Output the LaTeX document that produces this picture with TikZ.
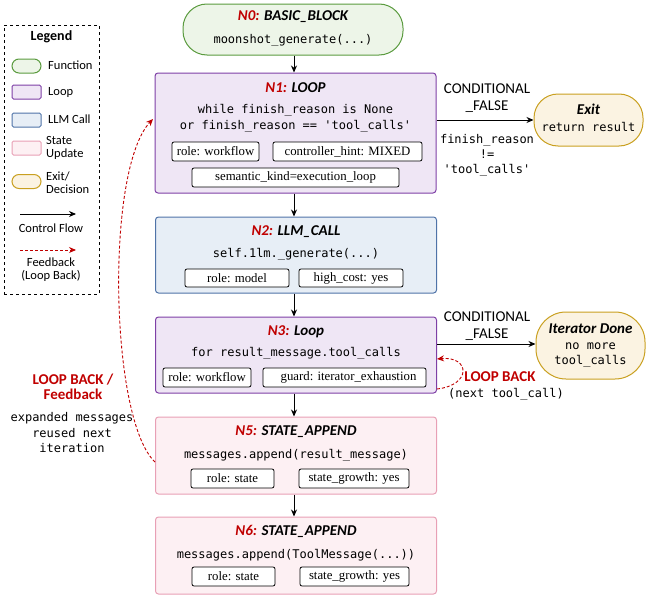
\documentclass[tikz,border=0pt]{standalone}
\usepackage{fontspec}
\setmainfont{Liberation Serif}
\setsansfont{Carlito}
\setmonofont{DejaVu Sans Mono}
\usetikzlibrary{arrows.meta}
\definecolor{gfill}{HTML}{EDF5E8}\definecolor{gline}{HTML}{5B9B3F}
\definecolor{pfill}{HTML}{EFE6F5}\definecolor{pline}{HTML}{7E3FA6}
\definecolor{bfill}{HTML}{E7EEF6}\definecolor{bline}{HTML}{4F73A8}
\definecolor{kfill}{HTML}{FDF0F3}\definecolor{kline}{HTML}{E8A0B5}
\definecolor{yfill}{HTML}{FBF3E2}\definecolor{yline}{HTML}{C9A020}
\definecolor{dred}{HTML}{C00000}
\begin{document}
\begin{tikzpicture}[x=1pt,y=-1pt,
  blk/.style={draw, line width=1pt, minimum width=281pt, rounded corners=3pt, inner sep=0pt},
  pill/.style={draw, line width=1pt, rounded corners=24pt, inner sep=0pt},
  ttl/.style={font=\sffamily\bfseries\itshape\fontsize{15}{17}\selectfont, inner sep=0pt},
  code/.style={font=\ttfamily\fontsize{12}{16}\selectfont, align=center, inner sep=0pt},
  tag/.style={draw, fill=white, rounded corners=2pt, line width=0.8pt, font=\fontsize{12.8}{14}\selectfont, minimum height=19pt, inner sep=0pt},
  lbl/.style={font=\sffamily\fontsize{15}{17}\selectfont, align=center, inner sep=0pt},
  leg/.style={font=\sffamily\fontsize{12.5}{13}\selectfont, align=left, anchor=west, inner sep=0pt},
  legicon/.style={draw, line width=1pt, minimum width=29pt, minimum height=14pt, inner sep=0pt},
  flow/.style={-{Stealth[length=7pt,width=6pt]}, line width=0.9pt},
  fb/.style={-{Stealth[length=7pt,width=6pt]}, line width=0.9pt, dred, dash pattern=on 3pt off 2pt}
]
\useasboundingbox (0,0) rectangle (648,597);

% Legend
\node[draw, dashed, line width=0.8pt, minimum width=95pt, minimum height=269pt, inner sep=0pt] (legbox) at (51.5,159.5) {};
\node[font=\sffamily\bfseries\fontsize{14}{16}\selectfont, inner sep=0pt] (legt) at (51.5,37) {Legend};
\node[legicon, rounded corners=7pt, fill=gfill, draw=gline] (lg1) at (26.5,66) {};
\node[leg] (lgt1) at (48,65) {Function};
\node[legicon, rounded corners=1.5pt, fill=pfill, draw=pline] (lg2) at (26.5,92) {};
\node[leg] (lgt2) at (48,92) {Loop};
\node[legicon, rounded corners=1.5pt, fill=bfill, draw=bline] (lg3) at (26.5,120) {};
\node[leg] (lgt3) at (48,119) {LLM Call};
\node[legicon, rounded corners=1.5pt, fill=kfill, draw=kline] (lg4) at (26.5,148) {};
\node[leg] (lgt4) at (46,148) {State\\Update};
\node[legicon, rounded corners=7pt, fill=yfill, draw=yline] (lg5) at (26.5,181.5) {};
\node[leg] (lgt5) at (46,183) {Exit/\\Decision};
\coordinate (cf1) at (20,214); \coordinate (cf2) at (76,214);
\draw[flow] (cf1) -- (cf2);
\node[leg, anchor=center] (lgt6) at (51,228) {Control Flow};
\coordinate (fb1) at (20,250); \coordinate (fb2) at (76,250);
\draw[fb] (fb1) -- (fb2);
\node[leg, anchor=center, align=center] (lgt7) at (51,270) {Feedback\\(Loop Back)};

% N0
\node[pill, fill=gfill, draw=gline, minimum width=220pt, minimum height=51pt] (n0) at (293,29.5) {};
\node[ttl] (n0t) at (293,17) {\textcolor{dred}{N0:} BASIC\_BLOCK};
\node[code] (n0c) at (293,40) {moonshot\_generate(...)};

% N1
\node[blk, fill=pfill, draw=pline, minimum height=120pt] (n1) at (295.5,133) {};
\node[ttl] (n1t) at (295.5,88) {\textcolor{dred}{N1:} LOOP};
\node[code] (n1c) at (295.5,118) {while finish\_reason is None\\or finish\_reason == 'tool\_calls'};
\node[tag, minimum width=87pt] (n1a) at (215.5,151.5) {role: workflow};
\node[tag, minimum width=149pt] (n1b) at (347.5,151.5) {controller\_hint: MIXED};
\node[tag, minimum width=207pt] (n1d) at (295.5,177.5) {semantic\_kind=execution\_loop};

% N2
\node[blk, fill=bfill, draw=bline, minimum height=76pt] (n2) at (296,255) {};
\node[ttl] (n2t) at (296,232) {\textcolor{dred}{N2:} LLM\_CALL};
\node[code] (n2c) at (296,254) {self.1lm.\_generate(...)};
\node[tag, minimum width=104pt, minimum height=18pt] (n2a) at (237,278) {role: model};
\node[tag, minimum width=104pt, minimum height=18pt] (n2b) at (351,278) {high\_cost: yes};

% N3
\node[blk, fill=pfill, draw=pline, minimum height=76pt] (n3) at (296,355) {};
\node[ttl] (n3t) at (296,332) {\textcolor{dred}{N3:} Loop};
\node[code] (n3c) at (296,353) {for result\_message.tool\_calls};
\node[tag, minimum width=88pt] (n3a) at (207,377.5) {role: workflow};
\node[tag, minimum width=163pt] (n3b) at (344.5,377.5) {\hspace*{8pt}guard: iterator\_exhaustion};

% N5
\node[blk, fill=kfill, draw=kline, minimum height=77pt] (n5) at (296,455.5) {};
\node[ttl] (n5t) at (296,432) {\textcolor{dred}{N5:} STATE\_APPEND};
\node[code] (n5c) at (296,455) {messages.append(result\_message)};
\node[tag, minimum width=83pt] (n5a) at (232.5,478.5) {role: state};
\node[tag, minimum width=110pt] (n5b) at (354,478.5) {state\_growth: yes};

% N6
\node[blk, fill=kfill, draw=kline, minimum height=77pt] (n6) at (296,555.5) {};
\node[ttl] (n6t) at (296,531) {\textcolor{dred}{N6:} STATE\_APPEND};
\node[code] (n6c) at (296,555) {messages.append(ToolMessage(...))};
\node[tag, minimum width=83pt] (n6a) at (233.5,576.5) {role: state};
\node[tag, minimum width=109pt] (n6b) at (354.5,576.5) {state\_growth: yes};

% Exit
\node[pill, fill=yfill, draw=yline, minimum width=109pt, minimum height=52pt] (ex) at (588.5,120) {};
\node[ttl] (ext) at (588.5,109) {Exit};
\node[code] (exc) at (588.5,127) {return result};

% Iterator Done
\node[pill, rounded corners=30pt, fill=yfill, draw=yline, minimum width=109pt, minimum height=67pt] (it) at (590.5,345.5) {};
\node[ttl] (itt) at (590.5,329) {Iterator Done};
\node[code, font=\ttfamily\fontsize{12}{15}\selectfont] (itc) at (590.5,355) {no more\\tool\_calls};

% main flow
\draw[flow] (n0.south -| 294,0) -- (n1.north -| 294,0);
\draw[flow] (n1.south -| 294,0) -- (n2.north -| 294,0);
\draw[flow] (n2.south -| 294,0) -- (n3.north -| 294,0);
\draw[flow] (n3.south -| 294,0) -- (n5.north -| 294,0);
\draw[flow] (n5.south -| 294,0) -- (n6.north -| 294,0);

% exits
\draw[flow] (n1.east |- ex.west) -- (ex.west);
\node[lbl] (c1) at (487,98.5) {CONDITIONAL\\\_FALSE};
\node[code, font=\ttfamily\fontsize{12}{15}\selectfont] (c1b) at (487,155) {finish\_reason\\!=\\'tool\_calls'};
\draw[flow] (n3.east |- 0,344) -- (it.west |- 0,344);
\node[lbl] (c2) at (487,326) {CONDITIONAL\\\_FALSE};

% small loop back
\coordinate (lbs) at (437,389);
\coordinate (lbe) at (437,359);
\draw[fb] (lbs) .. controls (472,385) and (470,356) .. (lbe);
\node[lbl, font=\sffamily\bfseries\fontsize{15}{17}\selectfont, text=dred] (lbl1) at (500,377) {LOOP BACK};
\node[code] (lbl2) at (506,394) {(next tool\_call)};

% big feedback
\coordinate (bfs) at (155,462);
\coordinate (bfe) at (153,119);
\draw[fb] (bfs) .. controls (110,420) and (105,170) .. (bfe);
\node[lbl, font=\sffamily\bfseries\fontsize{15}{14.5}\selectfont, text=dred] (fbl) at (73,387) {LOOP BACK /\\Feedback};
\node[code, font=\ttfamily\fontsize{12}{15.5}\selectfont] (fbc) at (72,433) {expanded messages\\reused next\\iteration};
\end{tikzpicture}
\end{document}
